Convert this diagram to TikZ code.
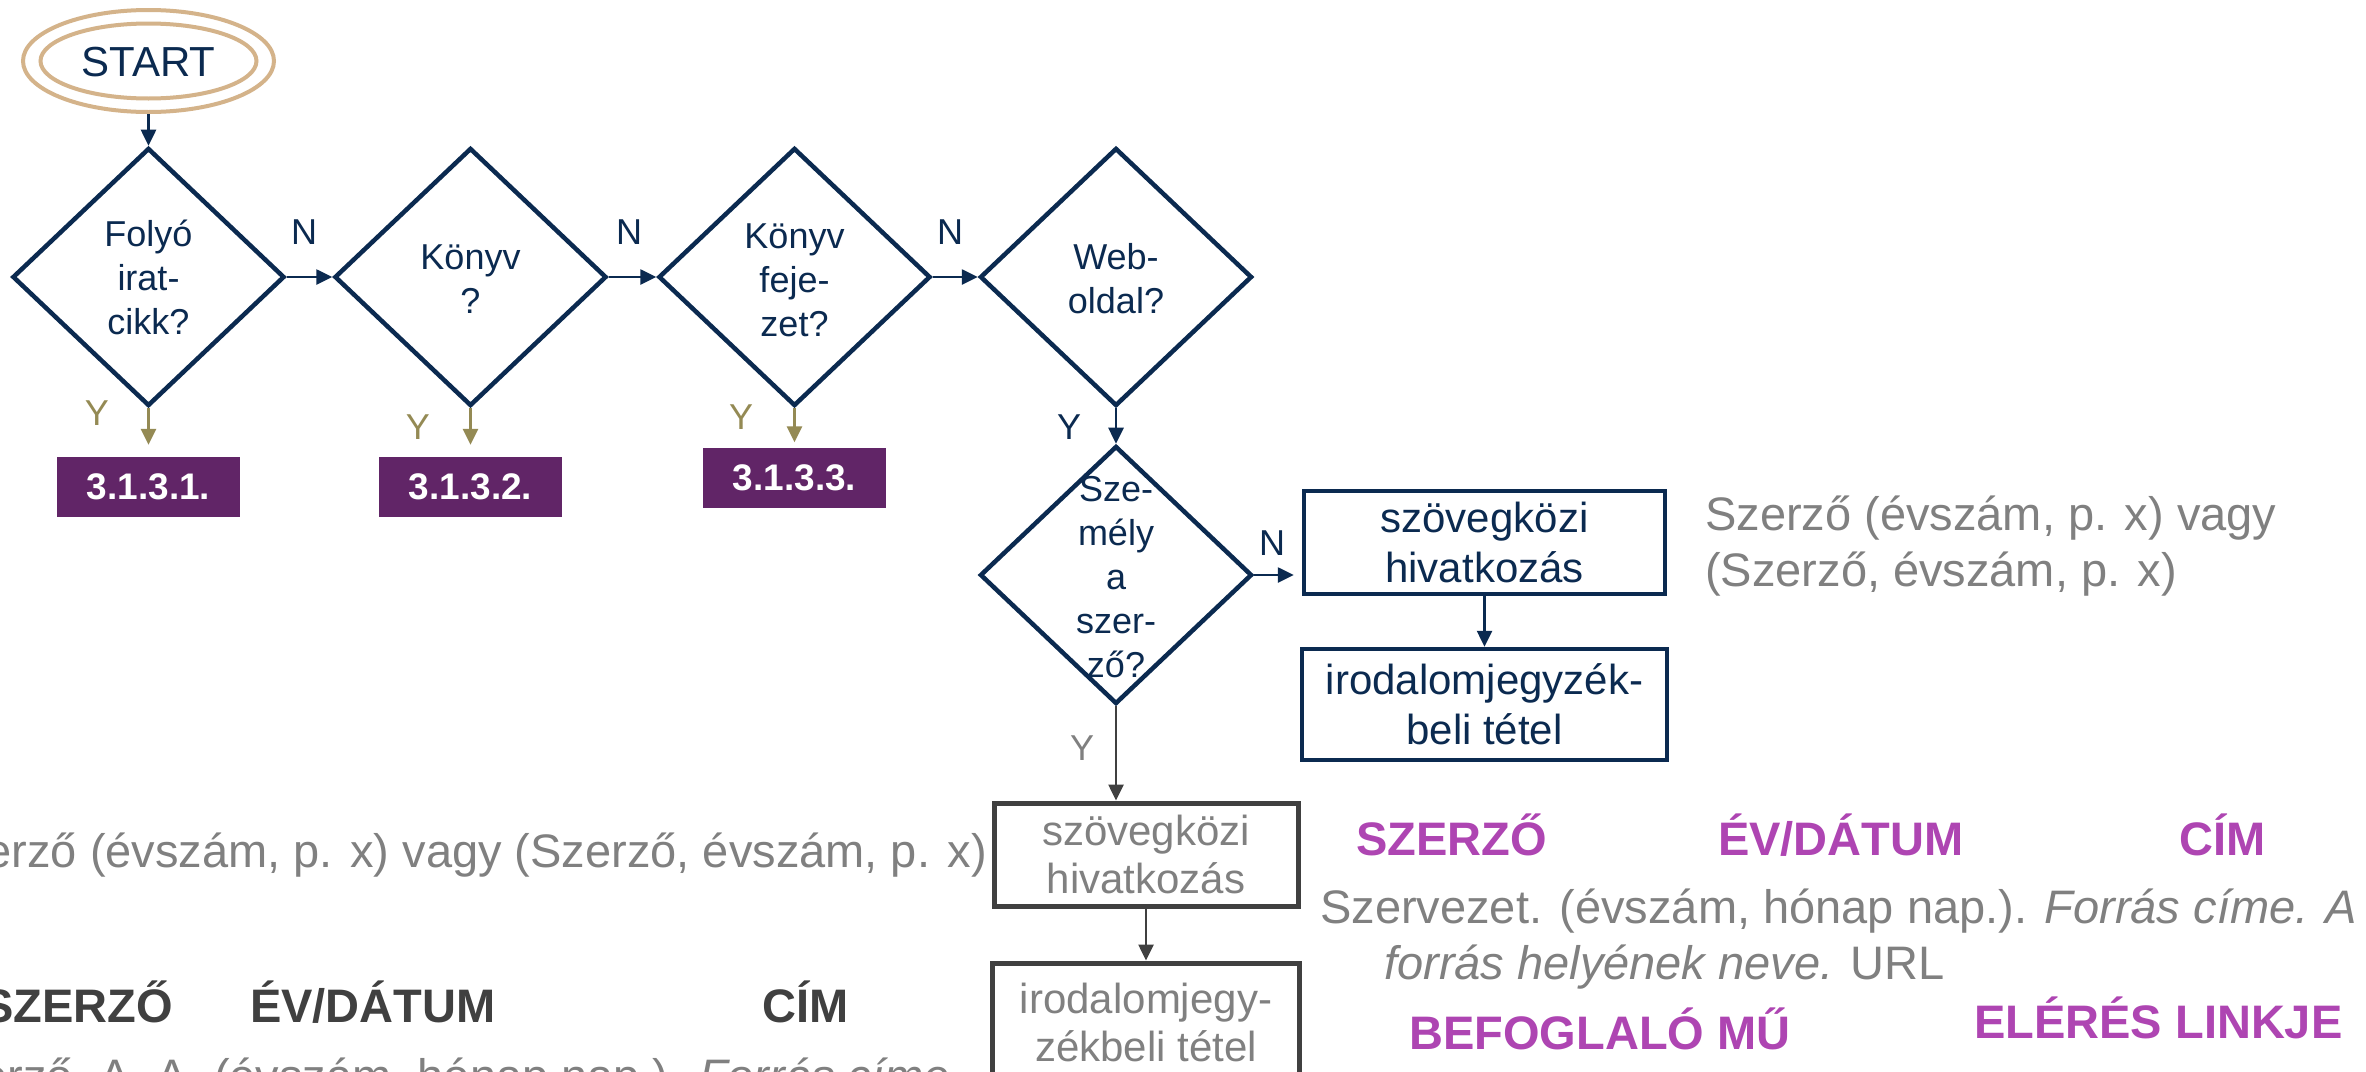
\documentclass[tikz,border=0pt]{standalone}
\usepackage{fontspec}
\setmainfont{Liberation Sans}
\usetikzlibrary{shapes.geometric,arrows.meta}
\definecolor{navy}{HTML}{0B2A50}
\definecolor{tanc}{HTML}{D4B38A}
\definecolor{olive}{HTML}{948A54}
\definecolor{boxpurple}{HTML}{612567}
\definecolor{txtgray}{HTML}{808080}
\definecolor{dgray}{HTML}{404040}
\definecolor{hpurple}{HTML}{AE45B2}
\begin{document}
\begin{tikzpicture}[x=1pt,y=-1pt,
  dia/.style={shape=diamond,draw=navy,line width=4.5pt,minimum width=272pt,minimum height=258pt,inner sep=0pt},
  diatext/.style={text=navy,align=center,inner sep=0pt,font=\fontsize{36}{44}\selectfont},
  lab/.style={text=navy,font=\fontsize{36}{43}\selectfont,inner sep=0pt},
  ylab/.style={lab,text=olive},
  arr/.style={draw=navy,line width=2.6pt,-{Triangle[length=16pt,width=15pt]}},
  yarr/.style={draw=olive,line width=2.6pt,-{Triangle[length=16pt,width=15pt]}},
  garr/.style={draw=dgray,line width=2.6pt,-{Triangle[length=16pt,width=15pt]}},
  secbox/.style={fill=boxpurple,minimum width=183pt,minimum height=60pt,inner sep=0pt,text=white,font=\fontsize{37}{44}\selectfont\bfseries},
  nbox/.style={draw=navy,line width=4.5pt,inner sep=0pt,align=center,text=navy,font=\fontsize{42}{50}\selectfont},
  gbox/.style={draw=dgray,line width=5pt,inner sep=0pt,align=center,text=txtgray,font=\fontsize{42}{48}\selectfont},
  gtext/.style={text=txtgray,inner sep=0pt,font=\fontsize{47}{56}\selectfont},
  head/.style={inner sep=0pt,font=\fontsize{47}{56}\selectfont\bfseries},
]
\useasboundingbox (0,0) rectangle (2366,1071);
\clip (0,0) rectangle (2366,1071);
\fill[white] (0,0) rectangle (2366,1071);

% START
\node[draw=tanc,line width=4pt,ellipse,minimum width=251pt,minimum height=102pt,inner sep=0pt] (start) at (148.5,61) {};
\node[draw=tanc,line width=4pt,ellipse,minimum width=216pt,minimum height=75pt,inner sep=0pt] (starti) at (148.5,61) {};
\node[text=navy,inner sep=0pt,font=\fontsize{42}{50}\selectfont] (startt) at (148.5,62) {START};

% diamonds
\node[dia] (d1) at (148.5,277) {};
\node[dia] (d2) at (470.5,277) {};
\node[dia] (d3) at (794.5,277) {};
\node[dia] (d4) at (1116,277) {};
\node[dia] (d5) at (1116,575) {};
\node[diatext] (d1t) at (148.5,277.5) {Folyó\\irat-\\cikk?};
\node[diatext] (d2t) at (470.5,279) {Könyv\\?};
\node[diatext] (d3t) at (794.5,280) {Könyv\\feje-\\zet?};
\node[diatext] (d4t) at (1116,279) {Web-\\oldal?};
\node[diatext] (d5t) at (1116,577) {Sze-\\mély\\a\\szer-\\ző?};

\draw[arr] (start) -- (d1);
\draw[arr] (d1) -- (d2);
\draw[arr] (d2) -- (d3);
\draw[arr] (d3) -- (d4);
\draw[arr] (d4) -- (d5);

\node[lab] (n1) at (304,232) {N};
\node[lab] (n2) at (629,232) {N};
\node[lab] (n3) at (950,232) {N};
\node[lab] (n5) at (1272,543) {N};
\node[lab] (y4) at (1069,427) {Y};

% section boxes
\node[secbox] (s1) at (148.5,487) {3.1.3.1.};
\node[secbox] (s2) at (470.5,487) {3.1.3.2.};
\node[secbox] (s3) at (794.5,477.5) {3.1.3.3.};
\draw[yarr] (d1.south) -- ([yshift=12pt]s1.north);
\draw[yarr] (d2.south) -- ([yshift=12pt]s2.north);
\draw[yarr] (d3.south) -- ([yshift=5pt]s3.north);
\node[ylab] (y1) at (97,413) {Y};
\node[ylab] (y2) at (418,427) {Y};
\node[ylab] (y3) at (741,417) {Y};

% organisation branch
\node[nbox,minimum width=361pt,minimum height=103pt] (b1) at (1484.5,542.5) {szövegközi\\hivatkozás};
\node[nbox,minimum width=365pt,minimum height=111pt] (b2) at (1484.5,704.5) {irodalomjegyzék-\\beli tétel};
\draw[arr,shorten >=8pt] (d5.east) -- (d5.east -| b1.west);
\draw[arr] (b1) -- (b2);
\node[gtext,anchor=base west] (g1) at (1705,530) {Szerző (évszám, p. x) vagy};
\node[gtext,anchor=base west] (g2) at (1705,586) {(Szerző, évszám, p. x)};

% person branch
\node[gbox,minimum width=304pt,minimum height=103pt] (b3) at (1146,854.5) {szövegközi\\hivatkozás};
\node[gbox,minimum width=307pt,minimum height=118pt] (b4) at (1146,1022) {irodalomjegy-\\zékbeli tétel};
\draw[garr] (d5.south) -- (d5.south |- b3.north);
\draw[garr] (b3) -- (b4);
\node[lab,text=txtgray] (y5) at (1082,748) {Y};

% left texts
\node[gtext,anchor=base east] (lt1) at (987,867) {Szerző (évszám, p. x) vagy (Szerző, évszám, p. x)};
\node[head,text=dgray,anchor=base east] (lh1) at (173,1022) {SZERZŐ};
\node[head,text=dgray,anchor=base west] (lh2) at (250,1022) {ÉV/DÁTUM};
\node[head,text=dgray,anchor=base west] (lh3) at (762,1022) {CÍM};
\node[gtext,anchor=base east] (lt2) at (950,1092) {Szerző, A. A. (évszám, hónap nap.). \textit{Forrás címe}};

% right bottom texts
\node[head,text=hpurple,anchor=base west] (rh1) at (1356,855) {SZERZŐ};
\node[head,text=hpurple,anchor=base west] (rh2) at (1718,855) {ÉV/DÁTUM};
\node[head,text=hpurple,anchor=base west] (rh3) at (2179,855) {CÍM};
\node[gtext,anchor=base west] (rt1) at (1320,923) {Szervezet. (évszám, hónap nap.). \textit{Forrás címe. A}};
\node[gtext,anchor=base west] (rt2) at (1384,979) {\textit{forrás helyének neve.} URL};
\node[head,text=hpurple,anchor=base west] (rh4) at (1409,1049) {BEFOGLALÓ MŰ};
\node[head,text=hpurple,anchor=base west] (rh5) at (1974,1038) {ELÉRÉS LINKJE};
\end{tikzpicture}
\end{document}
